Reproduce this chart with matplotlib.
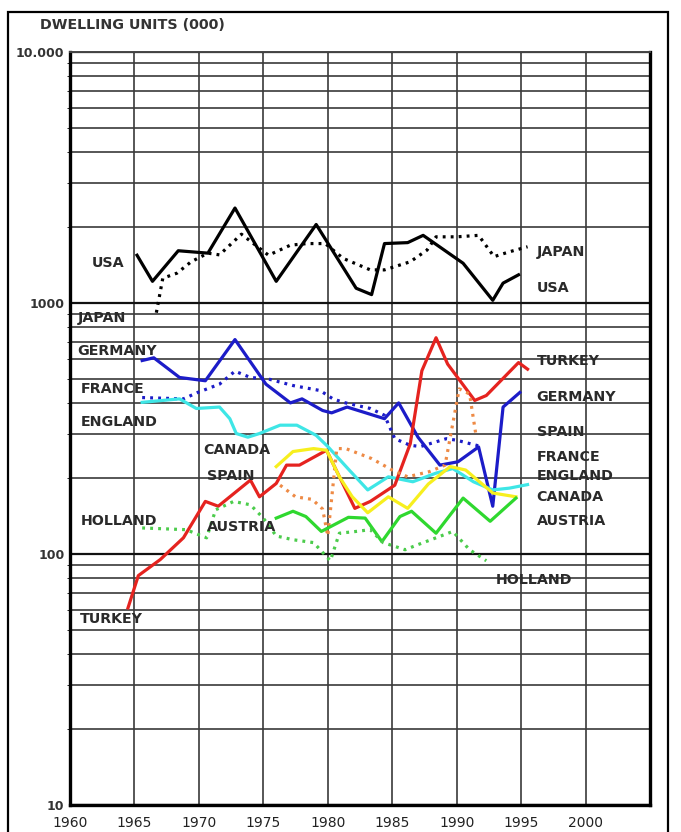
import matplotlib.pyplot as plt
from matplotlib.patches import Rectangle

# housing completions, thousands of dwelling units
usa_years = [1965.2, 1966.4, 1968.4, 1970.7, 1972.8, 1976.0, 1979.1, 1982.2, 1983.4, 1984.4,
             1986.2, 1987.4, 1990.5, 1992.8, 1993.6, 1994.8]
usa_vals = [1550, 1220, 1615, 1580, 2390, 1220, 2055, 1145, 1080, 1725,
            1740, 1860, 1440, 1025, 1200, 1295]

japan_years = [1966.7, 1967.2, 1968.3, 1969.4, 1970.7, 1971.6, 1973.3, 1975.4, 1977.1, 1978.4,
               1979.8, 1981.2, 1983.3, 1984.4, 1986.4, 1987.7, 1988.4, 1990.0, 1991.7, 1992.9,
               1994.1, 1995.5]
japan_vals = [915, 1255, 1315, 1460, 1580, 1555, 1880, 1550, 1700, 1725,
              1725, 1505, 1355, 1355, 1460, 1625, 1835, 1835, 1860, 1530,
              1600, 1675]

germany_years = [1965.6, 1966.5, 1968.5, 1970.5, 1972.8, 1975.2, 1977.1, 1978.0, 1979.6, 1980.3,
                 1981.5, 1984.4, 1985.5, 1987.0, 1988.7, 1990.1, 1991.7, 1992.8, 1993.6, 1994.9]
germany_vals = [590, 605, 505, 490, 715, 475, 400, 415, 373, 365,
                385, 346, 400, 292, 226, 233, 267, 155, 385, 440]

france_years = [1965.6, 1968.8, 1969.9, 1971.6, 1972.8, 1974.0, 1975.4, 1977.3, 1979.4, 1980.4,
                1981.2, 1983.3, 1984.4, 1985.2, 1986.4, 1987.2, 1989.2, 1990.0, 1991.9]
france_vals = [420, 415, 440, 475, 535, 505, 498, 469, 448, 415,
               402, 380, 357, 288, 271, 268, 288, 284, 268]

england_years = [1965.6, 1968.5, 1969.8, 1971.6, 1972.4, 1972.9, 1973.8, 1974.7, 1976.3, 1977.6,
                 1979.1, 1980.0, 1981.7, 1983.1, 1984.7, 1986.6, 1988.4, 1989.7, 1991.3, 1992.8,
                 1994.1, 1995.5]
england_vals = [402, 415, 380, 385, 346, 302, 292, 302, 326, 326,
                297, 268, 215, 180, 203, 194, 210, 219, 194, 180,
                183, 189]

turkey_years = [1964.5, 1965.3, 1967.0, 1968.8, 1970.5, 1971.5, 1974.0, 1974.7, 1976.0, 1976.8,
                1977.8, 1979.9, 1982.1, 1983.3, 1985.2, 1986.4, 1987.3, 1988.4, 1989.3, 1991.4,
                1992.3, 1994.8, 1995.5]
turkey_vals = [61, 82, 95, 116, 162, 155, 197, 169, 191, 226,
               226, 259, 152, 162, 188, 275, 537, 727, 571, 409,
               428, 579, 545]

spain_years = [1976.3, 1977.5, 1978.8, 1979.6, 1980.0, 1980.7, 1981.4, 1983.4, 1985.0, 1986.2,
               1987.9, 1989.1, 1990.2, 1991.0, 1991.5]
spain_vals = [188, 169, 165, 151, 118, 263, 263, 240, 216, 203,
              213, 226, 455, 434, 297]

canada_years = [1976.0, 1977.3, 1978.9, 1979.9, 1980.9, 1981.9, 1983.1, 1984.7, 1986.2, 1987.8,
                1989.5, 1990.7, 1992.8, 1994.6]
canada_vals = [223, 256, 263, 259, 203, 169, 146, 169, 152, 190,
               223, 216, 175, 169]

austria_years = [1976.0, 1977.3, 1978.3, 1979.5, 1981.6, 1982.9, 1984.2, 1985.6, 1986.5, 1988.4,
                 1990.5, 1992.6, 1994.6]
austria_vals = [139, 148, 141, 123, 140, 139, 112, 141, 148, 121,
                167, 135, 167]

holland_years = [1965.6, 1969.0, 1970.6, 1971.3, 1972.7, 1974.0, 1975.0, 1976.0, 1977.3, 1978.9,
                 1980.2, 1980.9, 1982.2, 1983.3, 1984.3, 1986.0, 1987.0, 1988.4, 1989.7, 1991.0,
                 1992.3]
holland_vals = [127, 125, 116, 150, 162, 157, 139, 118, 114, 111,
                94, 121, 123, 125, 111, 104, 109, 116, 123, 104,
                94]

year_ticks = [1960, 1965, 1970, 1975, 1980, 1985, 1990, 1995, 2000]
value_ticks = [10, 100, 1000, 10000]
value_labels = ['10', '100', '1000', '10.000']

solid = '-'
dots = (0, (0.9, 1.6))

series = [
    (usa_years, usa_vals, 'black', solid),
    (japan_years, japan_vals, 'black', dots),
    (germany_years, germany_vals, '#1c1cc8', solid),
    (france_years, france_vals, '#1c1cc8', dots),
    (england_years, england_vals, '#3ee6e6', solid),
    (turkey_years, turkey_vals, '#e5231f', solid),
    (spain_years, spain_vals, '#ee8a45', dots),
    (canada_years, canada_vals, '#f7ef1e', solid),
    (austria_years, austria_vals, '#2fd82f', solid),
    (holland_years, holland_vals, '#4ccc4c', dots),
]

# country names beside the lines (year, value)
left_names = [('USA', 1961.7, 1440), ('JAPAN', 1960.6, 872), ('GERMANY', 1960.6, 646),
              ('FRANCE', 1960.8, 453), ('ENGLAND', 1960.8, 335), ('CANADA', 1970.3, 260),
              ('SPAIN', 1970.6, 205), ('HOLLAND', 1960.8, 135), ('AUSTRIA', 1970.6, 128),
              ('TURKEY', 1960.8, 55)]
right_names = [('JAPAN', 1592), ('USA', 1146), ('TURKEY', 590), ('GERMANY', 421),
               ('SPAIN', 306), ('FRANCE', 244), ('ENGLAND', 204), ('CANADA', 168),
               ('AUSTRIA', 135)]

fig = plt.figure(figsize=(6.81, 8.32), dpi=100)
ax = fig.add_axes([70 / 681, 27 / 832, 580 / 681, 753 / 832])

ax.set_yscale('log')
ax.set_xlim(1960, 2005)
ax.set_ylim(10, 10000)

ax.set_xticks(year_ticks)
ax.set_xticklabels([str(y) for y in year_ticks])
ax.set_yticks(value_ticks)
ax.set_yticklabels(value_labels)
ax.tick_params(axis='both', length=0)
ax.tick_params(axis='x', pad=8, labelsize=10, labelcolor='#222222')
ax.tick_params(axis='y', pad=4, labelsize=9)
for lab in ax.get_yticklabels():
    lab.set_fontweight('bold')
    lab.set_color('#333333')

ax.yaxis.grid(True, which='minor', color='#3a3a3a', lw=1.2)
ax.yaxis.grid(True, which='major', color='#111111', lw=1.6)
ax.xaxis.grid(True, which='major', color='#3a3a3a', lw=1.2)
ax.set_axisbelow(True)

for side in ['left', 'bottom', 'right']:
    ax.spines[side].set_linewidth(2.4)
    ax.spines[side].set_color('black')
ax.spines['top'].set_linewidth(1.4)
ax.spines['top'].set_color('#444444')

for xs, ys, c, ls in series:
    ax.plot(xs, ys, color=c, linestyle=ls, lw=2.3, zorder=3)

font = dict(fontsize=10.3, fontweight='bold', color='#2a2a2a', va='center', zorder=4)
for name, x, y in left_names:
    ax.text(x, y, name, ha='left', **font)
for name, y in right_names:
    ax.text(1996.2, y, name, ha='left', **font)
ax.text(1993.0, 79, 'HOLLAND', ha='left', **font)

fig.text(40 / 681, 1 - 25 / 832, 'DWELLING UNITS (000)', fontsize=10.3, fontweight='bold',
         color='#333333', ha='left', va='center')

# outer frame
fig.patches.append(Rectangle((8 / 681, -0.01), 660 / 681, 1 - 12 / 832 + 0.01,
                             transform=fig.transFigure, fill=False, lw=1.6,
                             edgecolor='black'))

fig.savefig('out.png', dpi=100)
